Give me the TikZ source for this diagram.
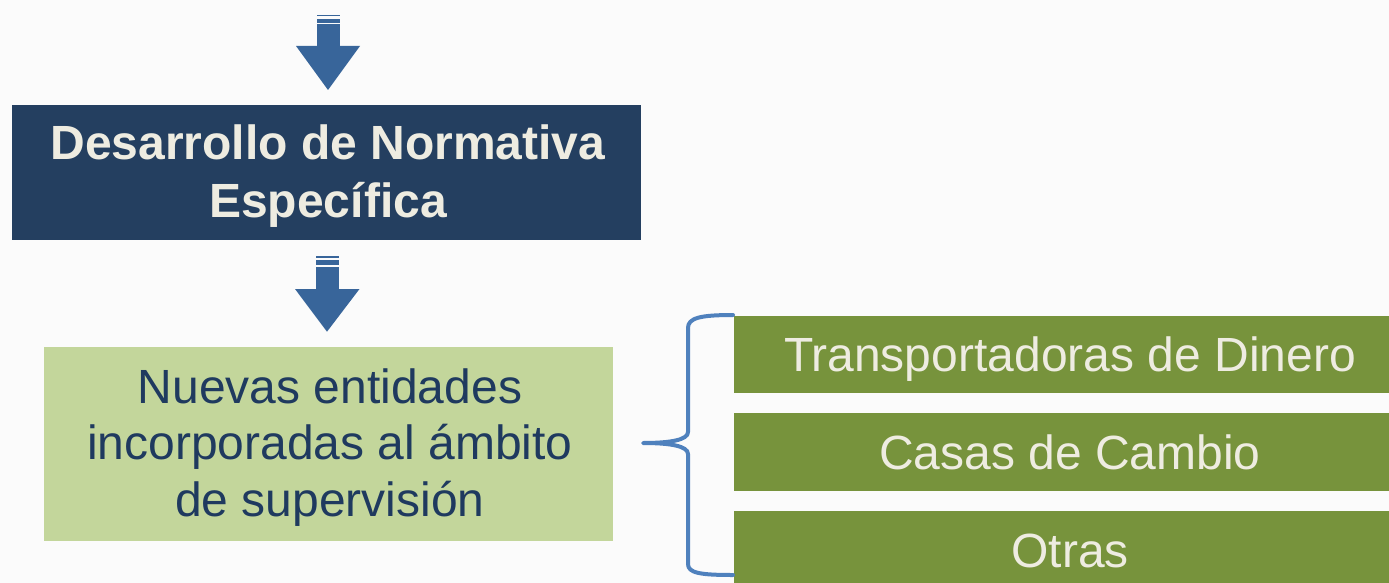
\documentclass[tikz,border=0pt]{standalone}
\usepackage{fontspec}
\setmainfont{Liberation Sans}
\definecolor{navy}{HTML}{243F60}
\definecolor{beige}{HTML}{EEECE1}
\definecolor{lightgreen}{HTML}{C3D69B}
\definecolor{navytext}{HTML}{1F3A5F}
\definecolor{olive}{HTML}{77933C}
\definecolor{arrowblue}{HTML}{38659A}
\definecolor{braceblue}{HTML}{4F81BD}
\definecolor{bg}{HTML}{FBFBFB}
\tikzset{
  darkbox/.style={rectangle, fill=navy, inner sep=0pt},
  lightbox/.style={rectangle, fill=lightgreen, inner sep=0pt},
  greenbox/.style={rectangle, fill=olive, text=beige, inner sep=0pt, minimum width=672pt,
    font=\fontsize{48}{57.6}\selectfont, text height=34.4pt, text depth=0pt},
  darktext/.style={text=beige, align=center, inner sep=0pt, font=\fontsize{48}{58}\selectfont\bfseries},
  lighttext/.style={text=navytext, align=center, inner sep=0pt, font=\fontsize{48}{56.7}\selectfont},
  stripe/.style={fill=arrowblue},
  bracestyle/.style={draw=braceblue, line width=4pt, line cap=round, line join=round}
}
\begin{document}
\begin{tikzpicture}[x=1pt,y=-1pt]
\useasboundingbox (0,0) rectangle (1389,583);
\fill[bg] (0,0) rectangle (1389,583);

% boxes
\node[darkbox, minimum width=629pt, minimum height=135pt] (desarrollo) at (326.5,172.5) {};
\node[darktext] (desarrollotxt) at ([xshift=1.5pt,yshift=-4pt]desarrollo.center) {Desarrollo de Normativa\\Específica};
\node[lightbox, minimum width=569pt, minimum height=194pt] (nuevas) at (328.5,444) {};
\node[lighttext] (nuevastxt) at ([xshift=1.5pt,yshift=-3.5pt]nuevas.center) {Nuevas entidades\\incorporadas al ámbito\\de supervisión};
\node[greenbox, minimum height=77pt] (transp) at (1070,354.5) {Transportadoras de Dinero};
\node[greenbox, minimum height=78pt] (casas) at (1070,452) {Casas de Cambio};
\node[greenbox, minimum height=78pt] (otras) at (1070,550) {Otras};

% arrow 1 (into the dark box)
\fill[stripe] (317,14.7) rectangle (340,16.3);
\fill[stripe] (317,18.7) rectangle (340,22.7);
\fill[stripe] (317,24.5) rectangle (340,47);
\fill[stripe] (296,46) -- (360,46) -- (328,90) -- cycle;

% arrow 2 (between dark box and light box)
\fill[stripe] (316,256) rectangle (339,257.6);
\fill[stripe] (316,260) rectangle (339,265);
\fill[stripe] (316,266.7) rectangle (339,290);
\fill[stripe] (295,289) -- (359.5,289) -- (327,331.7) -- cycle;

% brace
\coordinate (btop) at (733,315);
\coordinate (bmid) at (643,443);
\coordinate (bbot) at (733,575);
\draw[bracestyle] (btop) .. controls (700,315) and (688,318) .. (688,328)
  -- (688,432) .. controls (688,440) and (670,443) .. (bmid)
  .. controls (670,443) and (688,446) .. (688,454)
  -- (688,564) .. controls (688,573) and (700,575) .. (bbot);
\end{tikzpicture}
\end{document}
